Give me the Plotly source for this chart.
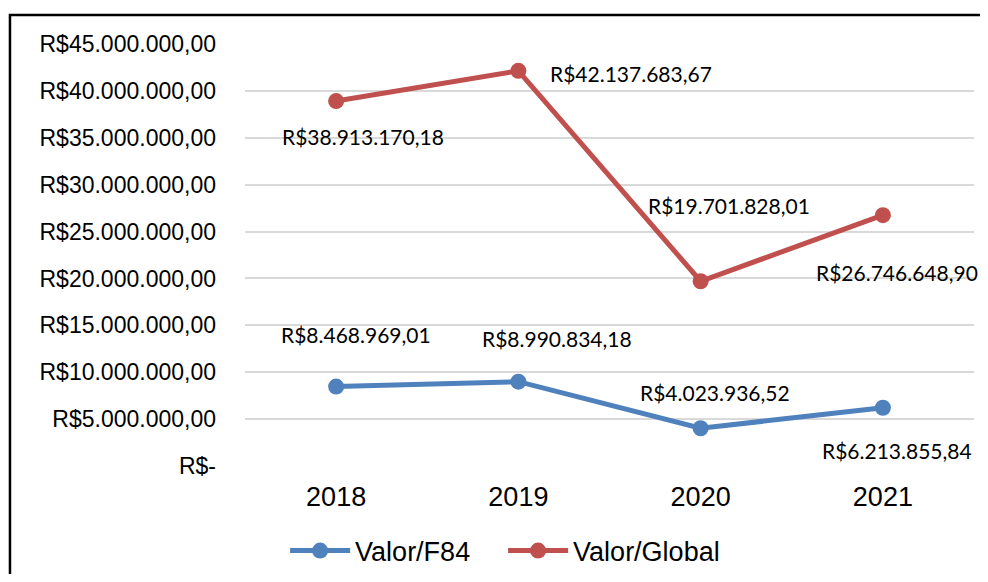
import plotly.graph_objects as go

anos = ['2018', '2019', '2020', '2021']
valor_f84 = [8468969.01, 8990834.18, 4023936.52, 6213855.84]
valor_global = [38913170.18, 42137683.67, 19701828.01, 26746648.90]
tick_vals = [0, 5e6, 10e6, 15e6, 20e6, 25e6, 30e6, 35e6, 40e6, 45e6]
tick_text = ['R$-', 'R$5.000.000,00', 'R$10.000.000,00', 'R$15.000.000,00',
             'R$20.000.000,00', 'R$25.000.000,00', 'R$30.000.000,00',
             'R$35.000.000,00', 'R$40.000.000,00', 'R$45.000.000,00']

BLUE = '#4F81BD'
RED = '#C0504D'


def brl(v):
    s = f'{v:,.2f}'
    return 'R$' + s.replace(',', 'X').replace('.', ',').replace('X', '.')


xpos = list(range(len(anos)))

fig = go.Figure()
fig.add_trace(go.Scatter(
    x=xpos, y=valor_f84, name='Valor/F84', mode='lines+markers',
    line=dict(color=BLUE, width=5), marker=dict(size=16, color=BLUE)
))
fig.add_trace(go.Scatter(
    x=xpos, y=valor_global, name='Valor/Global', mode='lines+markers',
    line=dict(color=RED, width=5), marker=dict(size=16, color=RED)
))

# label offsets (pixels) relative to each point
f84_shift = [(20, 52, 'center'), (39, 43, 'center'), (14, 36, 'center'), (14, -43, 'center')]
glob_shift = [(27, -35, 'center'), (30, -3, 'left'), (28, 76, 'center'), (14, -57, 'center')]

for i, v, (dx, dy, anc) in zip(xpos, valor_f84, f84_shift):
    fig.add_annotation(x=i, y=v, text=brl(v), showarrow=False, xshift=dx, yshift=dy,
                       xanchor=anc, font=dict(family='Lato', size=21, color='black'))
for i, v, (dx, dy, anc) in zip(xpos, valor_global, glob_shift):
    fig.add_annotation(x=i, y=v, text=brl(v), showarrow=False, xshift=dx, yshift=dy,
                       xanchor=anc, font=dict(family='Lato', size=21, color='black'))

fig.add_shape(type='rect', xref='paper', yref='paper', x0=-0.3224, y0=-1, x1=1.5, y1=1.0687,
              line=dict(color='black', width=2.5), layer='below')

fig.update_layout(
    width=972, height=566,
    plot_bgcolor='white', paper_bgcolor='white',
    margin=dict(l=237, r=6, t=36, b=108, autoexpand=False),
    font=dict(family='Liberation Sans', color='black'),
    xaxis=dict(
        range=[-0.5, 3.5], tickvals=xpos, ticktext=anos,
        showgrid=False, zeroline=False, showline=False,
        tickfont=dict(size=27), ticklabelstandoff=12
    ),
    yaxis=dict(
        range=[0, 45e6], tickvals=tick_vals, ticktext=tick_text,
        gridcolor='#D9D9D9', gridwidth=1.5, zeroline=False, showline=False,
        tickfont=dict(size=23), ticklabelstandoff=28
    ),
    showlegend=True,
    legend=dict(orientation='h', x=0.055, xanchor='left', y=-0.2014, yanchor='middle',
                font=dict(size=27), itemwidth=60, traceorder='normal',
                entrywidth=143, entrywidthmode='pixels')
)

fig.write_html('out.html')
